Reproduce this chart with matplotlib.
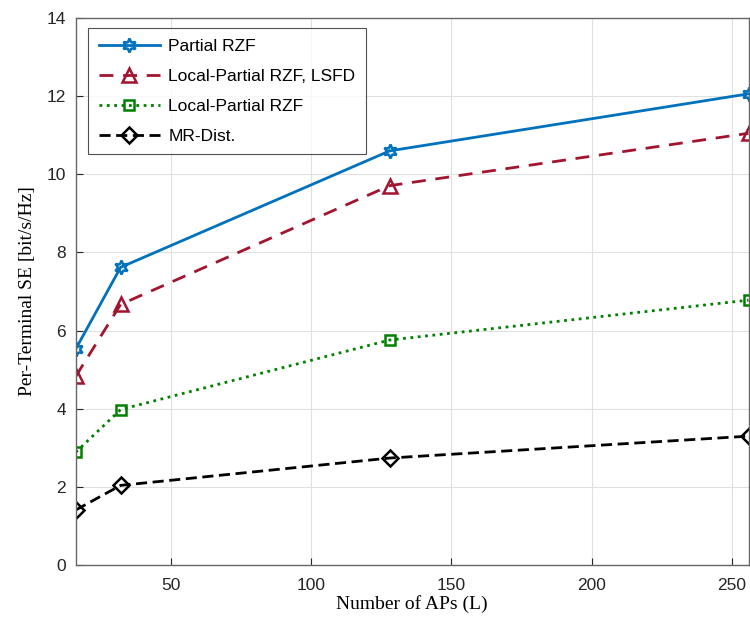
import numpy as np
import matplotlib.pyplot as plt

# number of APs
num_aps = [16, 32, 128, 256]

# per-terminal SE for each scheme
se_partial_rzf = [5.53, 7.62, 10.60, 12.06]
se_local_lsfd = [4.83, 6.67, 9.71, 11.05]
se_local_rzf = [2.89, 3.98, 5.76, 6.78]
se_mr_dist = [1.41, 2.04, 2.74, 3.30]

labels = ['Partial RZF', 'Local-Partial RZF, LSFD', 'Local-Partial RZF', 'MR-Dist.']
x_ticks = [50, 100, 150, 200, 250]
y_ticks = [0, 2, 4, 6, 8, 10, 12, 14]

plt.rcParams['font.family'] = ['Liberation Sans', 'DejaVu Sans']

fig = plt.figure(figsize=(7.5, 6.21), dpi=100)
ax = fig.add_axes([0.101, 0.090, 0.897, 0.881])

ax.plot(num_aps, se_partial_rzf, '-', color='#0072BD', lw=2.0,
        marker=(6, 1, 0), ms=10, mfc='none', mew=1.8, label=labels[0])
ax.plot(num_aps, se_local_lsfd, '--', color='#A2142F', lw=2.0, dashes=(5, 3.5),
        marker='^', ms=10, mfc='none', mew=1.8, label=labels[1])
ax.plot(num_aps, se_local_rzf, ':', color='#008000', lw=2.0,
        marker='s', ms=7, mfc='none', mew=1.8, label=labels[2])
ax.plot(num_aps, se_mr_dist, '-.', color='black', lw=2.0, dashes=(4, 2, 4, 2),
        marker='D', ms=8, mfc='none', mew=1.8, label=labels[3])

ax.set_xlim(16, 256)
ax.set_ylim(0, 14)
ax.set_xticks(x_ticks)
ax.set_yticks(y_ticks)
ax.tick_params(direction='in', labelsize=12.5, colors='#262626', length=5)
ax.tick_params(axis='x', pad=9)
ax.tick_params(axis='y', pad=7)
ax.grid(True, color='#e0e0e0', lw=0.8)
ax.set_axisbelow(True)
for s in ax.spines.values():
    s.set_color('#666666')
    s.set_linewidth(1.0)

ax.set_xlabel('Number of APs (L)', fontsize=14, family='Liberation Serif', labelpad=2)
ax.set_ylabel('Per-Terminal SE [bit/s/Hz]', fontsize=14, family='Liberation Serif', labelpad=8)

leg = ax.legend(loc='upper left', fontsize=12.5, handlelength=3.5, frameon=True,
                fancybox=False, edgecolor='#262626', borderpad=0.6, labelspacing=0.85,
                handletextpad=0.5, bbox_to_anchor=(0.006, 0.997))
leg.get_frame().set_linewidth(0.8)

fig.savefig('out.png', dpi=100)
